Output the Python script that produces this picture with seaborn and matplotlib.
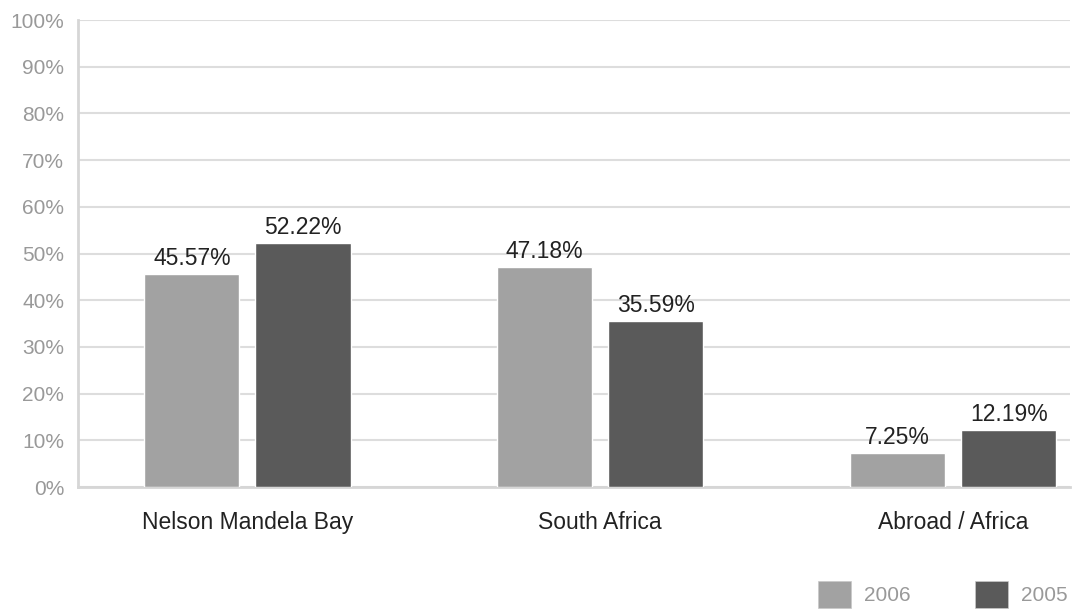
import matplotlib
matplotlib.use("Agg")
import matplotlib.pyplot as plt
import seaborn as sns
import pandas as pd
from matplotlib.ticker import FuncFormatter

# Share of visitors by origin, two survey years
regions = ["Nelson Mandela Bay", "South Africa", "Abroad / Africa"]
years = ["2006", "2005"]
share_2006 = [45.57, 47.18, 7.25]
share_2005 = [52.22, 35.59, 12.19]
y_ticks = list(range(0, 101, 10))

df = pd.DataFrame({
    "region": regions * 2,
    "year": [years[0]] * 3 + [years[1]] * 3,
    "share": share_2006 + share_2005,
})

sns.set_theme(style="white")
plt.rcParams["font.family"] = ["Liberation Sans", "DejaVu Sans"]

fig = plt.figure(figsize=(10.75, 6.09), dpi=100)
ax = fig.add_axes([0.0726, 0.2003, 0.9224, 0.7667])

palette = {"2006": "#a2a2a2", "2005": "#5a5a5a"}
sns.barplot(data=df, x="region", y="share", hue="year", hue_order=years,
            palette=palette, width=0.63, gap=0.144, saturation=1,
            legend=False, ax=ax, zorder=3)

for container in ax.containers:
    ax.bar_label(container, labels=[f"{v:.2f}%" for v in container.datavalues],
                 padding=3, fontsize=16.5, color="#222222")

ax.set_ylim(0, 100)
ax.set_yticks(y_ticks)
ax.yaxis.set_major_formatter(FuncFormatter(lambda v, _: f"{v:.0f}%"))
ax.set_xlim(-0.48, 2.33)
ax.grid(axis="y", color="#dddddd", linewidth=1.5, zorder=0)
ax.set_axisbelow(True)
ax.set_xlabel("")
ax.set_ylabel("")

for side in ("top", "right"):
    ax.spines[side].set_visible(False)
for side in ("left", "bottom"):
    ax.spines[side].set_color("#d6d6d6")
    ax.spines[side].set_linewidth(2)

ax.tick_params(axis="y", length=0, pad=10, labelsize=15, labelcolor="#999999")
ax.tick_params(axis="x", length=0, pad=17, labelsize=16.5, labelcolor="#222222")

handles = [plt.Rectangle((0, 0), 1, 1, facecolor=palette[y], edgecolor="#c8c8c8",
                         linewidth=0.5) for y in years]
leg = fig.legend(handles, years, loc="center", bbox_to_anchor=(0.877, 0.024),
                 ncol=2, frameon=False, fontsize=15, handlelength=1.6,
                 handleheight=1.6, handletextpad=0.6, columnspacing=3.1)
for t in leg.get_texts():
    t.set_color("#999999")

fig.savefig("out.png", dpi=100)
